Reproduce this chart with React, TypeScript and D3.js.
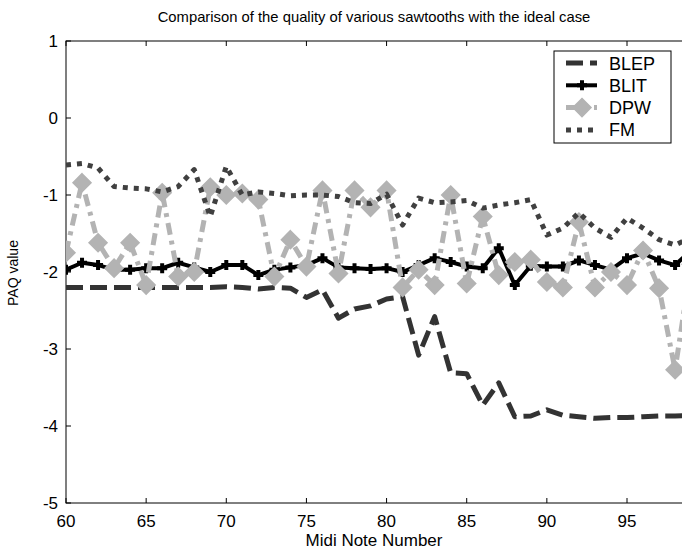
import * as d3 from 'd3';
import * as React from 'react';
import { useEffect } from 'react';

const notes: number[] = d3.range(60, 100);

const blep: number[] = [
  -2.2, -2.2, -2.2, -2.2, -2.2, -2.2, -2.2, -2.2, -2.2, -2.2,
  -2.19, -2.2, -2.22, -2.2, -2.21, -2.33, -2.23, -2.6, -2.48, -2.44,
  -2.35, -2.32, -3.08, -2.58, -3.31, -3.32, -3.73, -3.44, -3.88, -3.87,
  -3.79, -3.86, -3.88, -3.9, -3.89, -3.89, -3.88, -3.87, -3.87, -3.86,
];

const blit: number[] = [
  -1.97, -1.88, -1.91, -1.97, -1.97, -1.95, -1.95, -1.88, -1.94, -2.0,
  -1.91, -1.91, -2.04, -1.97, -1.94, -1.91, -1.82, -1.94, -1.95, -1.96,
  -1.95, -2.0, -1.91, -1.82, -1.87, -1.93, -1.95, -1.69, -2.17, -1.92,
  -1.93, -1.93, -1.85, -1.91, -1.97, -1.82, -1.76, -1.85, -1.91, -1.72,
];

const dpw: number[] = [
  -1.75, -0.84, -1.62, -1.95, -1.62, -2.17, -0.97, -2.06, -2.0, -0.9,
  -1.0, -0.98, -1.06, -2.06, -1.58, -1.93, -0.94, -2.02, -0.94, -1.16,
  -0.94, -2.2, -1.97, -2.17, -1.0, -2.15, -1.28, -2.04, -1.87, -1.84,
  -2.13, -2.2, -1.35, -2.2, -2.0, -2.17, -1.72, -2.21, -3.27, -1.9,
];

const fm: number[] = [
  -0.61, -0.59, -0.65, -0.89, -0.91, -0.92, -0.96, -0.89, -0.67, -1.28,
  -0.63, -1.0, -0.96, -0.98, -1.01, -1.0, -1.0, -1.02, -1.1, -1.11,
  -0.99, -1.39, -1.04, -1.1, -1.09, -1.07, -1.17, -1.13, -1.1, -1.06,
  -1.52, -1.43, -1.23, -1.43, -1.55, -1.3, -1.43, -1.58, -1.65, -1.55,
];

const xTicks: number[] = [60, 65, 70, 75, 80, 85, 90, 95];
const yTicks: number[] = [1, 0, -1, -2, -3, -4, -5];

interface ISeries {
  name: string;
  values: number[];
  color: string;
  width: number;
  dash: string | null;
  marker: 'plus' | 'diamond' | null;
}

const series: ISeries[] = [
  { name: 'BLEP', values: blep, color: '#333333', width: 5, dash: '17 7', marker: null },
  { name: 'BLIT', values: blit, color: '#000000', width: 4, dash: null, marker: 'plus' },
  { name: 'DPW', values: dpw, color: '#b3b3b3', width: 5, dash: '12 6 4 6', marker: 'diamond' },
  { name: 'FM', values: fm, color: '#404040', width: 5, dash: '5 6', marker: null },
];

const font = 'Liberation Sans, Arial, Helvetica, sans-serif';

const drawMarker = (
  g: d3.Selection<SVGGElement, unknown, null, undefined>,
  kind: 'plus' | 'diamond',
  cx: number,
  cy: number,
  color: string
) => {
  if (kind === 'plus') {
    g.append('path')
      .attr('d', `M${cx - 5},${cy}H${cx + 5}M${cx},${cy - 5}V${cy + 5}`)
      .attr('stroke', color)
      .attr('stroke-width', 4)
      .attr('fill', 'none');
  } else {
    const s = 9;
    g.append('path')
      .attr('d', `M${cx},${cy - s}L${cx + s},${cy}L${cx},${cy + s}L${cx - s},${cy}Z`)
      .attr('fill', color)
      .attr('stroke', color)
      .attr('stroke-width', 1.5);
  }
};

export const SawtoothChart: React.FC = () => {
  const ref = React.useRef<SVGSVGElement>(null);
  const width = 682;
  const height = 551;

  useEffect(() => {
    if (!ref.current) return;
    const svg = d3.select(ref.current);
    svg.selectAll('*').remove();

    const x = d3.scaleLinear().domain([60, 95]).range([66, 627]);
    const y = d3.scaleLinear().domain([1, -5]).range([41, 503]);
    const left = x(60);
    const right = x(99);
    const top = y(1);
    const bottom = y(-5);

    svg.append('rect').attr('width', width).attr('height', height).attr('fill', '#fff');

    svg.append('defs')
      .append('clipPath')
      .attr('id', 'plot-clip')
      .append('rect')
      .attr('x', left)
      .attr('y', top)
      .attr('width', right - left)
      .attr('height', bottom - top);

    // axes box + inward ticks
    const axes = svg.append('g').attr('stroke', '#000').attr('stroke-width', 1);
    axes.append('rect')
      .attr('x', left)
      .attr('y', top)
      .attr('width', right - left)
      .attr('height', bottom - top)
      .attr('fill', 'none');
    xTicks.forEach((t) => {
      axes.append('line').attr('x1', x(t)).attr('x2', x(t)).attr('y1', bottom).attr('y2', bottom - 5);
      axes.append('line').attr('x1', x(t)).attr('x2', x(t)).attr('y1', top).attr('y2', top + 5);
    });
    yTicks.forEach((t) => {
      axes.append('line').attr('x1', left).attr('x2', left + 5).attr('y1', y(t)).attr('y2', y(t));
    });

    const labels = svg.append('g').attr('font-family', font).attr('fill', '#000');
    xTicks.forEach((t) => {
      labels.append('text')
        .attr('x', x(t))
        .attr('y', bottom + 24)
        .attr('font-size', 17)
        .attr('text-anchor', 'middle')
        .text(t);
    });
    yTicks.forEach((t) => {
      labels.append('text')
        .attr('x', left - 8)
        .attr('y', y(t) + 6)
        .attr('font-size', 17)
        .attr('text-anchor', 'end')
        .text(t);
    });
    labels.append('text')
      .attr('x', 374)
      .attr('y', 22)
      .attr('font-size', 14.8)
      .attr('text-anchor', 'middle')
      .text('Comparison of the quality of various sawtooths with the ideal case');
    labels.append('text')
      .attr('x', 374)
      .attr('y', 546)
      .attr('font-size', 17)
      .attr('text-anchor', 'middle')
      .text('Midi Note Number');
    labels.append('text')
      .attr('transform', 'translate(18,273) rotate(-90)')
      .attr('font-size', 14)
      .attr('text-anchor', 'middle')
      .text('PAQ value');

    const plot = svg.append('g').attr('clip-path', 'url(#plot-clip)');
    series.forEach((s) => {
      const pts: [number, number][] = s.values.map((v, i) => [notes[i], v]);
      const line = d3
        .line<[number, number]>()
        .x((d) => x(d[0]))
        .y((d) => y(d[1]));
      plot.append('path')
        .datum(pts)
        .attr('fill', 'none')
        .attr('stroke', s.color)
        .attr('stroke-width', s.width)
        .attr('stroke-dasharray', s.dash)
        .attr('stroke-linejoin', 'round')
        .attr('d', line);
      if (s.marker) {
        const mg = plot.append('g');
        pts.forEach((p) => drawMarker(mg, s.marker!, x(p[0]), y(p[1]), s.color));
      }
    });

    // legend
    const lx = 554;
    const ly = 51;
    const legend = svg.append('g');
    legend.append('rect')
      .attr('x', lx)
      .attr('y', ly)
      .attr('width', 117)
      .attr('height', 92)
      .attr('fill', '#fff')
      .attr('stroke', '#000');
    series.forEach((s, i) => {
      const cy = ly + 12 + i * 22.3;
      legend.append('line')
        .attr('x1', lx + 12)
        .attr('x2', lx + 43)
        .attr('y1', cy)
        .attr('y2', cy)
        .attr('stroke', s.color)
        .attr('stroke-width', s.width)
        .attr('stroke-dasharray', s.dash);
      if (s.marker) drawMarker(legend, s.marker, lx + 28, cy, s.color);
      legend.append('text')
        .attr('x', lx + 55)
        .attr('y', cy + 6.5)
        .attr('font-family', font)
        .attr('font-size', 18)
        .text(s.name);
    });
  }, []);

  return (
    <svg
      ref={ref}
      width={width}
      height={height}
      style={{ position: 'absolute', left: 0, top: 0 }}
    />
  );
};

export default function App() {
  return <SawtoothChart />;
}
